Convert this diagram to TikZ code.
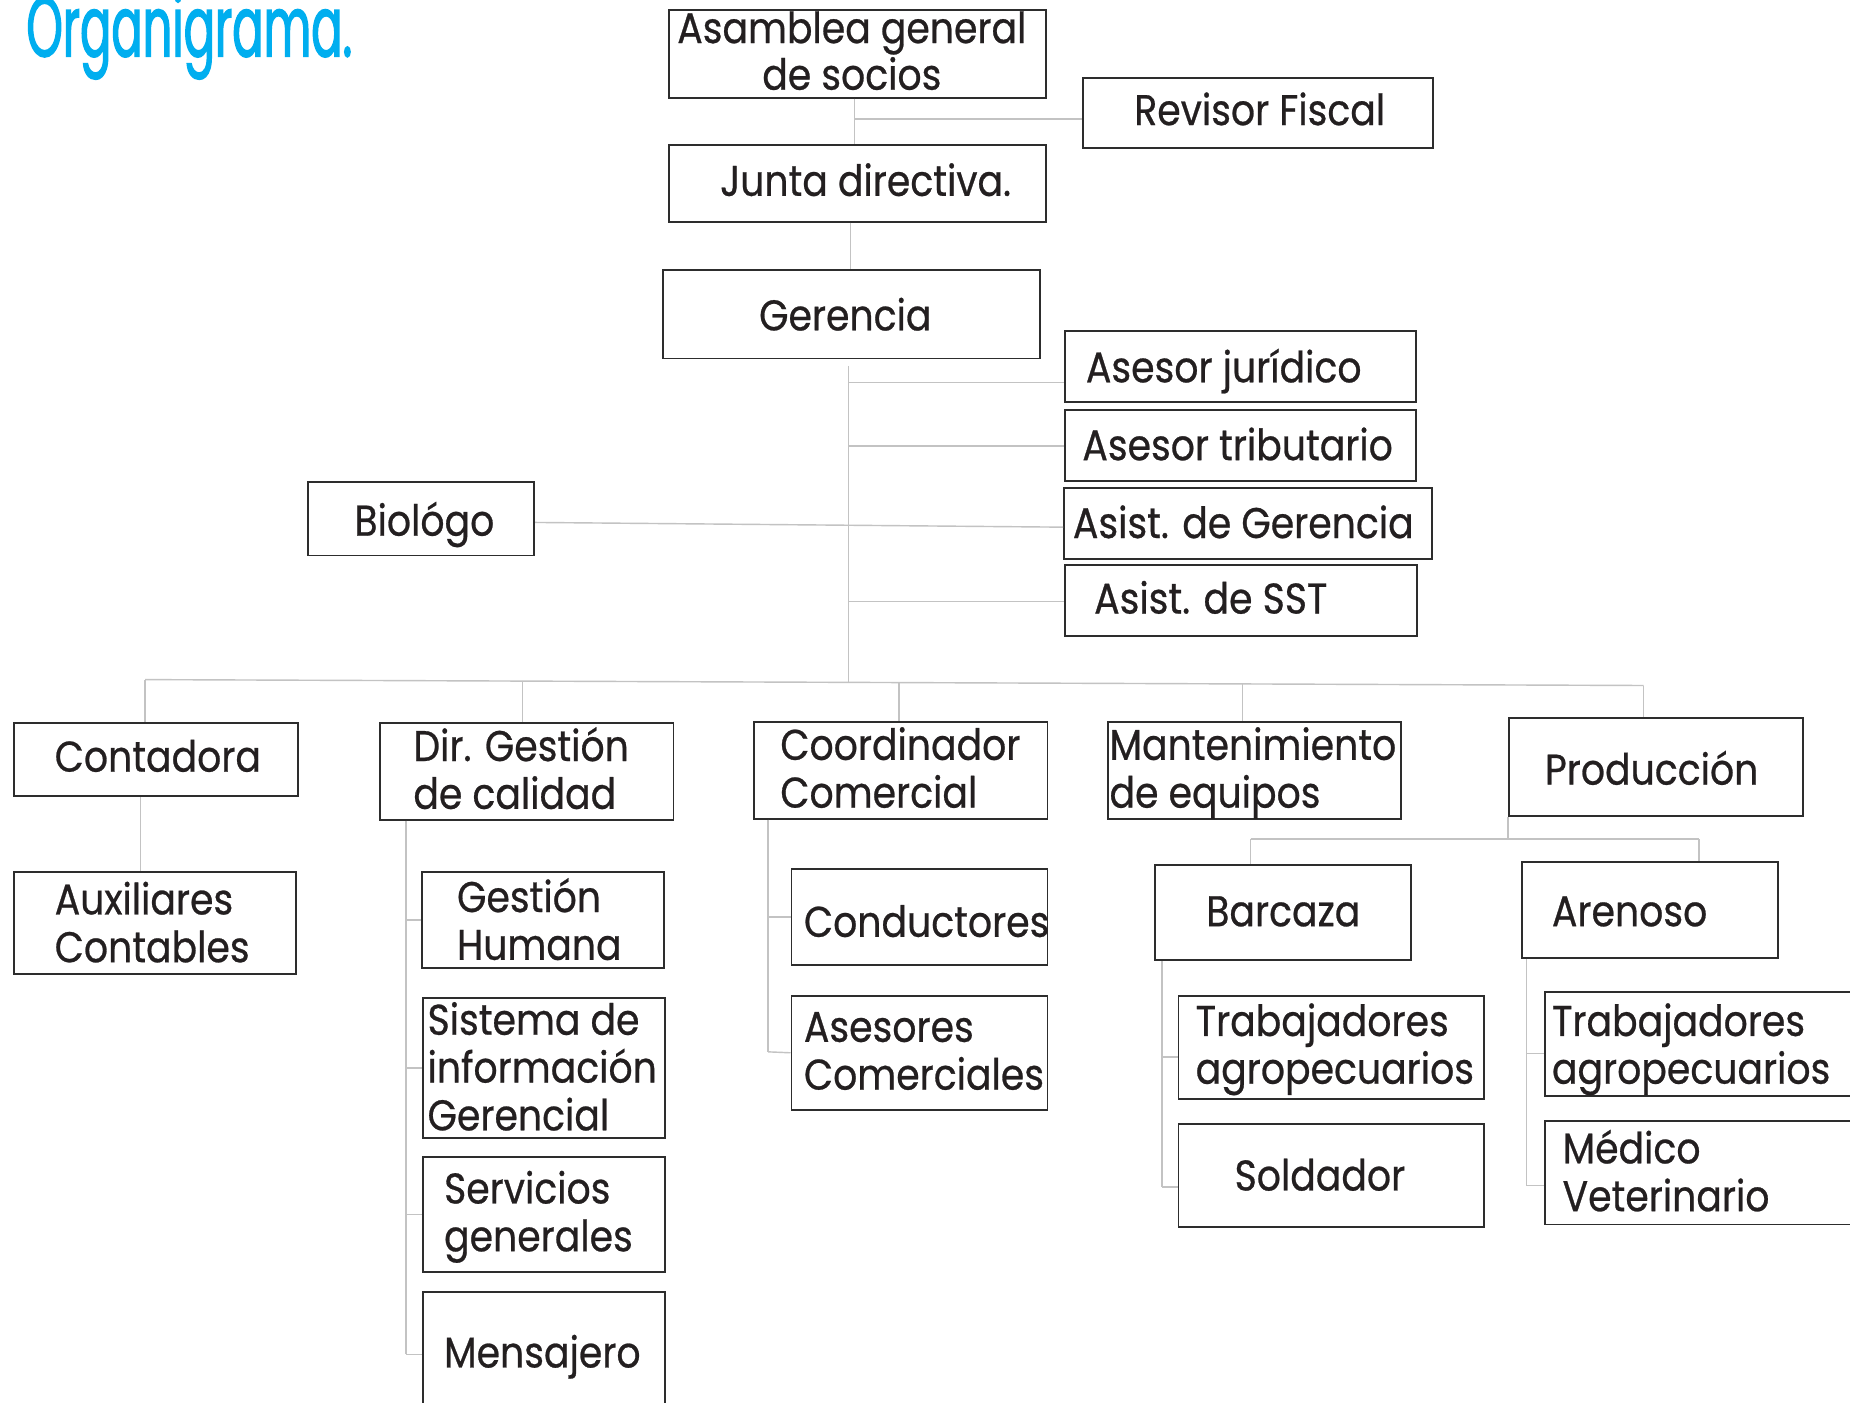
\documentclass[tikz,border=0pt]{standalone}
\usepackage{fontspec}
\setmainfont{Poppins}[FakeStretch=0.88,FakeBold=0.6]
\newfontfamily\titlefont{Poppins}[FakeStretch=0.545,FakeBold=1.4]
\usetikzlibrary{calc}
\definecolor{titleblue}{RGB}{0,174,239}
\definecolor{connc}{RGB}{195,195,195}
\definecolor{boxc}{RGB}{45,45,45}
\definecolor{txtc}{RGB}{35,31,32}
\newcommand\obx[5]{\node[obox, anchor=north west, minimum width={(#4-#2)*0.5pt}, minimum height={(#5-#3)*0.5pt}] (#1) at (#2,#3) {};}
% #3 = baseline of the LAST line
\newcommand\otx[4]{\node[lbl, anchor=base west] (#1) at (#2,#3) {#4};}
\begin{document}
\begin{tikzpicture}[x=0.5pt,y=-0.5pt,
  obox/.style={draw=boxc, line width=0.8pt, inner sep=0pt, rectangle},
  lbl/.style={inner sep=0pt, font=\fontsize{18.2}{20.25}\selectfont, text=txtc, align=left},
  conn/.style={draw=connc, line width=0.6pt}]
\useasboundingbox (0,0) rectangle (1568,1189);
\fill[white] (0,0) rectangle (1568,1189);
\clip (0,0) rectangle (1568,1189);

% title
\node[anchor=base west, inner sep=0pt, text=titleblue, font=\titlefont\fontsize{36}{36}\selectfont] (title) at (22,48) {Organigrama.};

% boxes
\obx{asam}{566}{8}{886}{82}
\obx{rev}{917}{65}{1214}{125}
\obx{junta}{566}{122}{886}{187}
\obx{ger}{561}{228}{881}{303}
\obx{ajur}{902}{280}{1199}{340}
\obx{atri}{902}{347}{1199}{407}
\obx{asg}{901}{413}{1213}{473}
\obx{asst}{902}{478}{1200}{538}
\obx{bio}{260}{408}{452}{470}
\obx{cont}{11}{612}{252}{674}
\obx{dir}{321}{612}{570}{694}
\obx{coord}{638}{611}{887}{693}
\obx{mant}{938}{611}{1187}{693}
\obx{prod}{1278}{608}{1527}{691}
\obx{aux}{11}{738}{250}{825}
\obx{gh}{357}{738}{562}{820}
\obx{sig}{358}{845}{563}{964}
\obx{serv}{358}{980}{563}{1077}
\obx{mens}{358}{1094}{563}{1206}
\obx{cond}{670}{736}{887}{817}
\obx{ase}{670}{843}{887}{940}
\obx{barc}{978}{732}{1195}{813}
\obx{aren}{1289}{730}{1506}{811}
\obx{trab}{998}{843}{1257}{931}
\obx{sold}{998}{952}{1257}{1039}
\obx{trabb}{1309}{840}{1568}{928}
\obx{med}{1309}{949}{1568}{1037}

% texts
\node[lbl, anchor=base, align=center, font=\fontsize{18.2}{12.6}\selectfont] (asamt) at (722,76) {Asamblea general\\de socios};
\otx{revt}{961}{106}{Revisor Fiscal}
\otx{juntat}{610}{166}{Junta directiva.}
\otx{gert}{643}{280}{Gerencia}
\otx{ajurt}{920}{324}{Asesor jurídico}
\otx{atrit}{917}{390}{Asesor tributario}
\otx{asgt}{909}{456}{Asist. de Gerencia}
\otx{asstt}{927}{520}{Asist. de SST}
\otx{biot}{300}{454}{Biológo}
\otx{contt}{46}{654}{Contadora}
\otx{dirt}{350}{685.5}{Dir. Gestión\\de calidad}
\otx{coordt}{661}{684.5}{Coordinador\\Comercial}
\otx{mantt}{940}{684.5}{Mantenimiento\\de equipos}
\otx{prodt}{1309}{665}{Producción}
\otx{auxt}{46}{815.5}{Auxiliares\\Contables}
\otx{ght}{387}{813.5}{Gestión\\Humana}
\otx{sigt}{362}{958}{Sistema de\\información\\Gerencial}
\otx{servt}{376}{1060.5}{Servicios\\generales}
\otx{menst}{376}{1159}{Mensajero}
\otx{condt}{681}{794}{Conductores}
\otx{aset}{681}{923.5}{Asesores\\Comerciales}
\otx{barct}{1022}{785}{Barcaza}
\otx{arent}{1315}{785}{Arenoso}
\otx{trabt}{1013}{918.5}{Trabajadores\\agropecuarios}
\otx{soldt}{1046}{1009}{Soldador}
\otx{trabbt}{1315}{918.5}{Trabajadores\\agropecuarios}
\otx{medt}{1324}{1026.5}{Médico\\Veterinario}

% connectors top
\coordinate (cA) at (724,101);
\draw[conn] (asam.south -| cA) -- (junta.north -| cA);
\draw[conn] (cA) -- (cA -| rev.west);
\coordinate (cJ) at (721,200);
\draw[conn] (junta.south -| cJ) -- (ger.north -| cJ);
\coordinate (g0) at (719,310);
\coordinate (g1) at (719,578.3);
\draw[conn] (g0) -- (g1);
\coordinate (bJ) at (719,324);
\draw[conn] (bJ) -- (bJ -| ajur.west);
\coordinate (bT) at (719,378);
\draw[conn] (bT) -- (bT -| atri.west);
\coordinate (bS) at (719,510);
\draw[conn] (bS) -- (bS -| asst.west);
\draw[conn] ($(bio.east)+(0,3)$) -- ($(asg.west)+(0,3)$);

% bus
\coordinate (bL) at (123,576);
\coordinate (bR) at (1393,581);
\draw[conn] (bL) -- (bR);
\draw[conn] (bL) -- (bL |- cont.north);
\coordinate (d2) at (443,577.3);
\draw[conn] (d2) -- (d2 |- dir.north);
\coordinate (d3) at (762,578.5);
\draw[conn] (d3) -- (d3 |- coord.north);
\coordinate (d4) at (1053,579.7);
\draw[conn] (d4) -- (d4 |- mant.north);
\draw[conn] (bR) -- (bR |- prod.north);

% contadora
\coordinate (cc) at (119,700);
\draw[conn] (cont.south -| cc) -- (aux.north -| cc);

% dir tree
\coordinate (dT) at (344,1148);
\draw[conn] (dir.south -| dT) -- (dT);
\draw[conn] (dT |- gh.west) -- (gh.west);
\draw[conn] (dT |- sig.west) -- (sig.west);
\draw[conn] (dT |- serv.west) -- (serv.west);
\draw[conn] (dT) -- (dT -| mens.west);

% coord tree
\coordinate (cT) at (651,891.5);
\draw[conn] (coord.south -| cT) -- (cT);
\draw[conn] (cT |- cond.west) -- (cond.west);
\draw[conn] (cT) -- (ase.west);

% produccion tree
\coordinate (pH) at (1278,711);
\coordinate (pL) at (1060,711);
\coordinate (pR) at (1440,711);
\draw[conn] (prod.south west) -- (pH);
\draw[conn] (pL) -- (pR);
\draw[conn] (pL) -- (pL |- barc.north);
\draw[conn] (pR) -- (pR |- aren.north);

% barcaza tree
\coordinate (bz1) at (985,896);
\coordinate (bz2) at (985,1006);
\draw[conn] (barc.south -| bz1) -- (bz2);
\draw[conn] (bz1) -- (bz1 -| trab.west);
\draw[conn] (bz2) -- (bz2 -| sold.west);

% arenoso tree
\coordinate (ar1) at (1294,893);
\coordinate (ar2) at (1294,1005);
\draw[conn] (aren.south -| ar1) -- (ar2);
\draw[conn] (ar1) -- (ar1 -| trabb.west);
\draw[conn] (ar2) -- (ar2 -| med.west);
\end{tikzpicture}
\end{document}
